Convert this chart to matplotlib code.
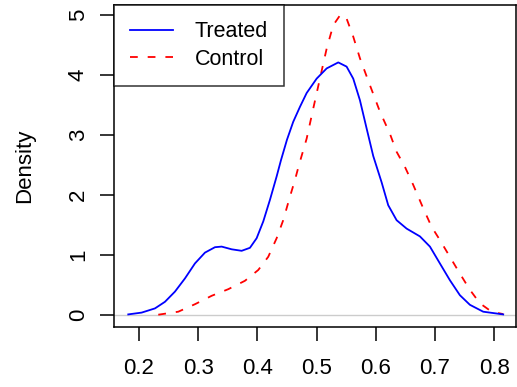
import matplotlib
matplotlib.use('Agg')
import matplotlib.pyplot as plt

plt.rcParams['font.family'] = ['Liberation Sans', 'DejaVu Sans']

# density estimates
treated_x = [0.1819, 0.2045, 0.227, 0.2439, 0.2608, 0.2777, 0.2946, 0.3115, 0.3284,
             0.3397, 0.3566, 0.3735, 0.3875, 0.3988, 0.41, 0.4213, 0.4326, 0.4399,
             0.45, 0.4606, 0.472, 0.4833, 0.5002, 0.5171, 0.5367, 0.5508, 0.562, 0.5733,
             0.5846, 0.5958, 0.61, 0.6211, 0.6353, 0.6522, 0.6747, 0.6916, 0.7084,
             0.7253, 0.7422, 0.7591, 0.7816, 0.8154]
treated_y = [0.01, 0.04, 0.11, 0.22, 0.39, 0.61, 0.86, 1.04, 1.13,
             1.14, 1.095, 1.07, 1.12, 1.28, 1.56, 1.92, 2.31, 2.58,
             2.92, 3.22, 3.47, 3.7, 3.94, 4.11, 4.21, 4.14, 3.94, 3.58,
             3.11, 2.65, 2.21, 1.83, 1.58, 1.44, 1.31, 1.14, 0.86,
             0.58, 0.33, 0.17, 0.055, 0.01]
control_x = [0.2326, 0.2664, 0.2946, 0.3228, 0.3508, 0.379, 0.4015, 0.4184, 0.4326,
             0.4437, 0.455, 0.4635, 0.4703, 0.4833, 0.4944, 0.5057, 0.5171, 0.5282,
             0.5407, 0.5508, 0.562, 0.5733, 0.5902, 0.6071, 0.624, 0.6353, 0.6493,
             0.6633, 0.6802, 0.6944, 0.7084, 0.7253, 0.7422, 0.7591, 0.776, 0.7958,
             0.8154]
control_y = [0.005, 0.055, 0.18, 0.32, 0.43, 0.57, 0.75, 0.97, 1.28,
             1.58, 1.97, 2.25, 2.5, 2.94, 3.44, 3.94, 4.44, 4.83,
             5.01, 4.94, 4.64, 4.28, 3.83, 3.39, 3.02, 2.72, 2.47,
             2.17, 1.78, 1.47, 1.25, 0.97, 0.69, 0.42, 0.195, 0.055,
             0.015]
x_ticks = [0.2, 0.3, 0.4, 0.5, 0.6, 0.7, 0.8]
y_ticks = [0, 1, 2, 3, 4, 5]

W, H = 517, 387
fig = plt.figure(figsize=(W / 100, H / 100), dpi=100)
ax = fig.add_axes([114 / W, (H - 327) / H, (516 - 114) / W, (327 - 5) / H])

ax.axhline(0, color='#cccccc', linewidth=1.0, zorder=1)
ax.plot(treated_x, treated_y, color='blue', linewidth=1.3, label='Treated', zorder=3)
ax.plot(control_x, control_y, color='red', linewidth=1.3, linestyle=(0, (4.3, 5.5)),
        label='Control', zorder=2)

ax.set_xlim(0.1578, 0.837)
ax.set_ylim(-0.2, 5.167)

for s in ax.spines.values():
    s.set_linewidth(1.1)
ax.set_xticks(x_ticks)
ax.set_xticklabels([f'{v:.1f}' for v in x_ticks])
ax.set_yticks(y_ticks)
ax.set_yticklabels([str(v) for v in y_ticks], rotation=90, va='center')
ax.tick_params(axis='both', length=10, width=1.1, labelsize=16, direction='out')
ax.tick_params(axis='x', pad=12)
ax.tick_params(axis='y', pad=8)
ax.set_ylabel('Density', fontsize=16, labelpad=24)

leg = ax.legend(loc='upper left', bbox_to_anchor=(0, 1), borderaxespad=0,
                fontsize=15.5, frameon=True, fancybox=False, handlelength=2.0,
                handletextpad=1.0, borderpad=0.75, labelspacing=0.3)
leg.get_frame().set_edgecolor('black')
leg.get_frame().set_linewidth(1.1)

fig.savefig('out.png', dpi=100)
